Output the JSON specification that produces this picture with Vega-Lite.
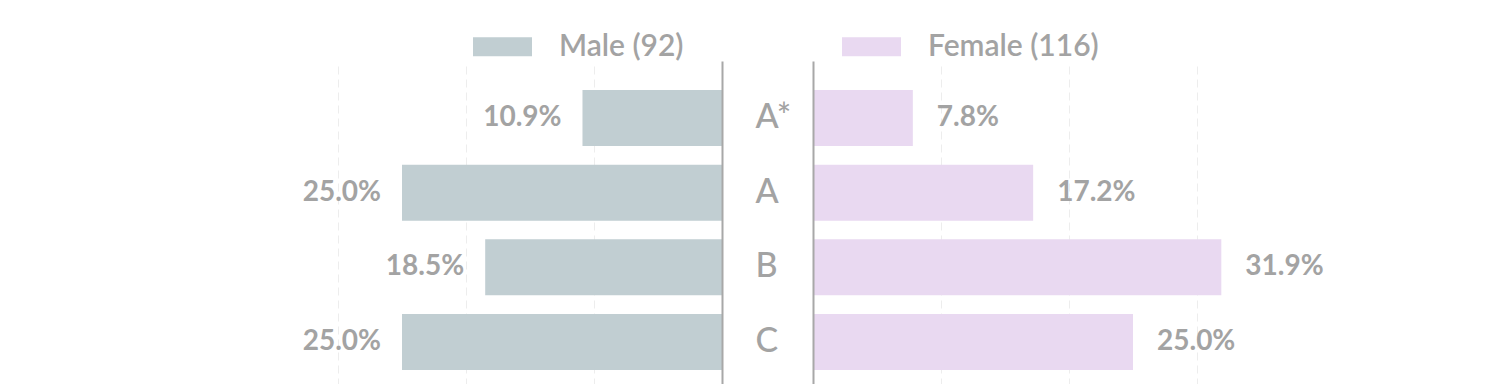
{
  "$schema": "https://vega.github.io/schema/vega-lite/v6.json",
  "padding": {"left": 274, "top": 17, "right": 20, "bottom": 0},
  "background": "white",
  "bounds": "flush",
  "spacing": 91,
  "datasets": {
    "grades": [
      {"grade": "A*", "gender": "Male (92)", "share": 0.109},
      {"grade": "A", "gender": "Male (92)", "share": 0.25},
      {"grade": "B", "gender": "Male (92)", "share": 0.185},
      {"grade": "C", "gender": "Male (92)", "share": 0.25},
      {"grade": "A*", "gender": "Female (116)", "share": 0.078},
      {"grade": "A", "gender": "Female (116)", "share": 0.172},
      {"grade": "B", "gender": "Female (116)", "share": 0.319},
      {"grade": "C", "gender": "Female (116)", "share": 0.25}
    ]
  },
  "config": {
    "view": {"stroke": null},
    "font": "Lato"
  },
  "hconcat": [
    {
      "width": 448,
      "height": 338,
      "data": {"name": "grades"},
      "transform": [{"filter": "datum.gender === 'Male (92)'"}],
      "encoding": {
        "y": {
          "field": "grade", "type": "nominal", "sort": ["A*", "A", "B", "C"],
          "scale": {"paddingInner": 0.25, "paddingOuter": 0.39},
          "axis": {
            "orient": "right", "title": null, "domain": true, "domainColor": "#a8a8a8", "domainWidth": 2,
            "ticks": false, "labelAlign": "left", "labelPadding": 33, "labelFontSize": 34,
            "labelColor": "#a3a3a3", "labelFont": "Lato", "labelFontWeight": 500, "zindex": 1
          }
        },
        "x": {
          "field": "share", "type": "quantitative",
          "scale": {"domain": [0, 0.35], "reverse": true, "nice": false},
          "axis": {
            "title": null, "labels": false, "ticks": false, "domain": false, "grid": true,
            "values": [0.1, 0.2, 0.3], "gridColor": "#ededed", "gridDash": [8, 5], "gridWidth": 1
          }
        }
      },
      "layer": [
        {
          "mark": {"type": "bar"},
          "encoding": {
            "color": {
              "field": "gender", "type": "nominal",
              "scale": {"domain": ["Male (92)", "Female (116)"], "range": ["#c1ced2", "#e9d9f1"]},
              "legend": {
                "orient": "none", "legendX": 199, "legendY": -44, "direction": "horizontal", "title": null,
                "symbolType": "M-1,-0.322L1,-0.322L1,0.322L-1,0.322Z", "symbolSize": 3481,
                "symbolStrokeWidth": 0, "symbolOpacity": 1, "labelFontSize": 30, "labelColor": "#a3a3a3",
                "labelFont": "Lato", "labelFontWeight": 600, "labelOffset": 27, "columnPadding": 158,
                "padding": 0, "labelLimit": 400
              }
            }
          }
        },
        {
          "mark": {"type": "text", "align": "right", "baseline": "middle", "dx": -21, "fontSize": 28, "fontWeight": 700, "color": "#a3a3a3"},
          "encoding": {"text": {"field": "share", "format": ".1%"}}
        }
      ]
    },
    {
      "width": 448,
      "height": 338,
      "data": {"name": "grades"},
      "transform": [{"filter": "datum.gender === 'Female (116)'"}],
      "encoding": {
        "y": {
          "field": "grade", "type": "nominal", "sort": ["A*", "A", "B", "C"],
          "scale": {"paddingInner": 0.25, "paddingOuter": 0.39},
          "axis": {
            "orient": "left", "title": null, "domain": true, "domainColor": "#a8a8a8", "domainWidth": 2,
            "ticks": false, "labels": false, "zindex": 1
          }
        },
        "x": {
          "field": "share", "type": "quantitative",
          "scale": {"domain": [0, 0.35], "nice": false},
          "axis": {
            "title": null, "labels": false, "ticks": false, "domain": false, "grid": true,
            "values": [0.1, 0.2, 0.3], "gridColor": "#ededed", "gridDash": [8, 5], "gridWidth": 1
          }
        }
      },
      "layer": [
        {
          "mark": {"type": "bar"},
          "encoding": {
            "color": {"field": "gender", "type": "nominal"}
          }
        },
        {
          "mark": {"type": "text", "align": "left", "baseline": "middle", "dx": 24, "fontSize": 28, "fontWeight": 700, "color": "#a3a3a3"},
          "encoding": {"text": {"field": "share", "format": ".1%"}}
        }
      ]
    }
  ]
}
